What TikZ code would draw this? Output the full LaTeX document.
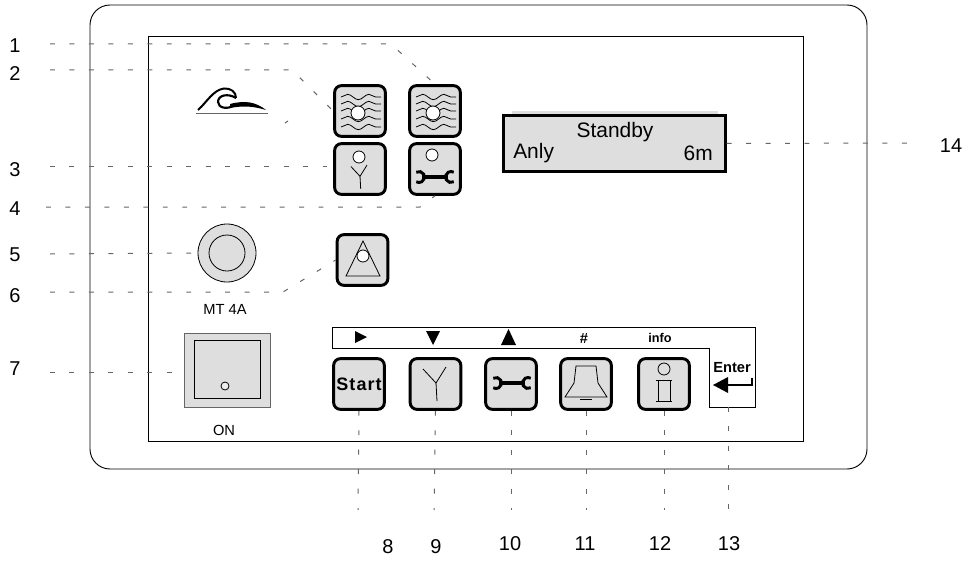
\documentclass[tikz,border=0pt]{standalone}
\usepackage{fontspec}
\setmainfont{Liberation Sans}
\usepackage{xcolor}
\usetikzlibrary{positioning}
\usetikzlibrary{decorations.pathmorphing}
\definecolor{panelGray}{HTML}{DEDEDE}
\definecolor{leaderGray}{HTML}{666666}
\tikzset{
  numlabel/.style={font=\fontsize{15}{17}\selectfont},
  smalllabel/.style={font=\fontsize{11}{13}\selectfont},
  disptext/.style={font=\fontsize{15.7}{18}\selectfont,inner sep=0pt},
  leader/.style={leaderGray,line width=0.75pt,dash pattern=on 3.7pt off 10.9pt},
  panelkey/.style={draw,fill=panelGray,line width=2.2pt,rounded corners=5pt,
    minimum width=38pt,minimum height=38pt,inner sep=0pt},
  thinline/.style={line width=0.6pt},
  lamp/.style={fill=white,draw,line width=0.6pt},
  wavy/.style={thinline,decorate,decoration={snake,segment length=16pt,amplitude=2pt}},
  pics/waves/.style={code={
    \draw[wavy] (-19,-15)--(21,-15);
    \draw[wavy] (-19,-8)--(21,-8);
    \draw[wavy] (-19,-1)--(21,-1);
    \draw[wavy] (-19,7)--(21,7);
    \draw[wavy] (-19,15)--(21,15);
    \draw[lamp] (-2,1) circle (7);
  }},
  pics/spanner/.style={code={
    \draw[line width=2.4pt] (-13,0)--(13,0);
    \draw[line width=2.2pt] ([shift={(-120:5.5)}]-16,0) arc (-120:120:5.5);
    \draw[line width=2.2pt] ([shift={(60:5.5)}]16,0) arc (60:300:5.5);
  }},
  pics/fork/.style={code={
    \draw[thinline] (-13,-15)--(0,-1)--(10,-17);
    \draw[thinline] (0,-1)--(1,17);
  }}
}
\begin{document}
\begin{tikzpicture}[x=0.75pt,y=-0.75pt]
  \useasboundingbox (0,0) rectangle (966,560);
  \draw[line width=0.7pt,rounded corners=15pt] (90,5) rectangle (867,469);
  \draw[line width=0.65pt] (148,36) rectangle (803,441);

  \fill[panelGray] (512,111) rectangle (718,118);
  \node[draw,fill=panelGray,line width=2.2pt,minimum width=166pt,minimum height=42.5pt,inner sep=0pt] (display) at (614.5,143.5) {};
  \node[disptext] (standby) at (615,132) {Standby};
  \node[disptext,anchor=west] (anly) at (513,153) {Anly};
  \node[disptext,anchor=east] (depth) at (713,153) {6m};

  \draw[line width=1.5pt] (198,110) .. controls (207,102) and (213,90) .. (224,88.5) .. controls (231,88) and (236,92) .. (236,98);
  \draw[line width=1.6pt] (236,98) .. controls (228,93) and (218,95) .. (218,102) .. controls (218,108) and (228,110) .. (234,105);
  \fill (230,104) .. controls (245,100) and (256,102) .. (266,110) .. controls (256,107) and (245,105) .. (230,108) -- cycle;
  \draw[leaderGray,line width=1.2pt] (196,113.5)--(268,113.5);

  \node[panelkey] (keytwo) at (360,111) {};
  \node[panelkey] (keyone) at (435,111) {};
  \node[panelkey] (keythree) at (360,169) {};
  \node[panelkey] (keyfour) at (435,169) {};
  \node[panelkey] (keysix) at (362.5,260) {};
  \pic at (360,112) {waves};
  \pic at (435,112) {waves};
  \pic[scale=0.7] at (360,177) {fork};
  \node[lamp,circle,minimum size=9pt,inner sep=0pt] (lampthree) at (359,157) {};
  \node[lamp,circle,minimum size=9pt,inner sep=0pt] (lampfour) at (432,155) {};
  \pic at (435,177) {spanner};
  \draw[thinline] (363,241)--(346,276)--(380,276)--cycle;
  \node[lamp,circle,minimum size=9pt,inner sep=0pt] (lampsix) at (363,256) {};

  \node[draw,circle,fill=panelGray,thinline,minimum size=43.5pt,inner sep=0pt] (knob) at (227,253) {};
  \node[draw,circle,fill=panelGray,thinline,minimum size=27pt,inner sep=0pt] (knobcap) at (227,253) {};
  \node[smalllabel,inner sep=0pt] (mtlabel) at (225,309) {MT 4A};

  \node[draw=leaderGray,fill=panelGray,line width=0.9pt,minimum width=64pt,minimum height=56pt,inner sep=0pt] (switch) at (227.5,370.5) {};
  \node[draw,thinline,minimum width=49pt,minimum height=43pt,inner sep=0pt] (rocker) at (227.5,369.5) {};
  \node[draw,circle,thinline,fill=panelGray!50,minimum size=6pt,inner sep=0pt] (rockerdot) at (225,386) {};
  \node[smalllabel,inner sep=0pt] (onlabel) at (224,430) {ON};

  \draw[line width=0.65pt] (709,348)--(332,348)--(332,327)--(755,327)--(755,407)--(709,407)--cycle;
  \fill (355,331)--(367,337)--(355,343)--cycle;
  \fill (426,331)--(440,331)--(433,345)--cycle;
  \fill (501,345)--(516,345)--(508.5,329)--cycle;
  \node[font=\fontsize{11}{13}\selectfont\bfseries,inner sep=0pt] (hashlabel) at (584,338) {\#};
  \node[font=\fontsize{9.5}{11}\selectfont\bfseries,inner sep=0pt] (infolabel) at (660,338) {info};
  \node[font=\fontsize{11}{13}\selectfont\bfseries,inner sep=0pt] (enterlabel) at (732,368) {Enter};
  \draw[line width=1.6pt] (752,378)--(752,385)--(726,385);
  \fill (713,385)--(728,377)--(728,393)--cycle;

  \node[panelkey,font=\fontsize{13.5}{15}\selectfont\bfseries\addfontfeature{LetterSpace=6}] (keystart) at (359,384) {Start};
  \node[panelkey] (keyfork) at (435.5,384) {};
  \node[panelkey] (keyspanner) at (511,384) {};
  \node[panelkey] (keybell) at (586,384) {};
  \node[panelkey] (keyinfo) at (664,384) {};
  \pic at (436,384) {fork};
  \pic at (512,383) {spanner};
  \draw[thinline] (576,366)--(596,366)--(598,383)--(607,397)--(565,397)--(574,383)--cycle;
  \draw[line width=1.2pt] (580,399.5)--(592,399.5);
  \node[lamp,circle,minimum size=9pt,inner sep=0pt,fill=panelGray] (lampinfo) at (664,369) {};
  \draw[thinline] (658,380)--(658,401);
  \draw[thinline] (670,380)--(670,401);
  \draw[thinline] (656,380)--(672,380);
  \draw[thinline] (656,401)--(672,401);

  \node[numlabel] (numone) at (15,46) {1};
  \node[numlabel] (numtwo) at (15,74) {2};
  \node[numlabel] (numthree) at (15,170) {3};
  \node[numlabel] (numfour) at (15,209) {4};
  \node[numlabel] (numfive) at (15,255) {5};
  \node[numlabel] (numsix) at (15,296) {6};
  \node[numlabel] (numseven) at (15,369) {7};
  \node[numlabel] (numeight) at (388,547) {8};
  \node[numlabel] (numnine) at (436,547) {9};
  \node[numlabel] (numten) at (510,544) {10};
  \node[numlabel] (numeleven) at (585,544) {11};
  \node[numlabel] (numtwelve) at (660,544) {12};
  \node[numlabel] (numthirteen) at (729,544) {13};
  \node[numlabel] (numfourteen) at (951,146) {14};

  \coordinate (startone) at (50,44);
  \coordinate (bendone) at (391,44);
  \coordinate (starttwo) at (50,70);
  \coordinate (bendtwo) at (292,70);
  \coordinate (startthree) at (50,166);
  \coordinate (startfour) at (46,207);
  \coordinate (bendfour) at (420,207);
  \coordinate (startfive) at (50,254);
  \coordinate (startsix) at (50,292);
  \coordinate (bendsix) at (283,292);
  \coordinate (startseven) at (50,372);
  \coordinate (endeight) at (358,510);
  \coordinate (endnine) at (434,510);
  \coordinate (endten) at (511,510);
  \coordinate (endeleven) at (586,510);
  \coordinate (endtwelve) at (664,510);
  \coordinate (endthirteen) at (728,510);
  \coordinate (endfourteen) at (907,143);
  \coordinate (enterfoot) at (728,407);
  \coordinate (strayfrom) at (285,123);
  \coordinate (strayto) at (288,121);

  \draw[leader] (startone)--(bendone)--(keyone.north);
  \draw[leader] (starttwo)--(bendtwo)--(keytwo.west);
  \draw[leader] (strayfrom)--(strayto);
  \draw[leader] (startthree)--(keythree.west |- startthree);
  \draw[leader] (startfour)--(bendfour)--(keyfour.south);
  \draw[leader] (startfive)--(knob.west);
  \draw[leader] (startsix)--(bendsix)--(keysix.west);
  \draw[leader] (startseven)--(switch.west |- startseven);
  \draw[leader] (keystart.south)--(endeight);
  \draw[leader] (keyfork.south)--(endnine);
  \draw[leader] (keyspanner.south)--(endten);
  \draw[leader] (keybell.south)--(endeleven);
  \draw[leader] (keyinfo.south)--(endtwelve);
  \draw[leader] (enterfoot)--(endthirteen);
  \draw[leader] (display.east)--(endfourteen);
\end{tikzpicture}
\end{document}
